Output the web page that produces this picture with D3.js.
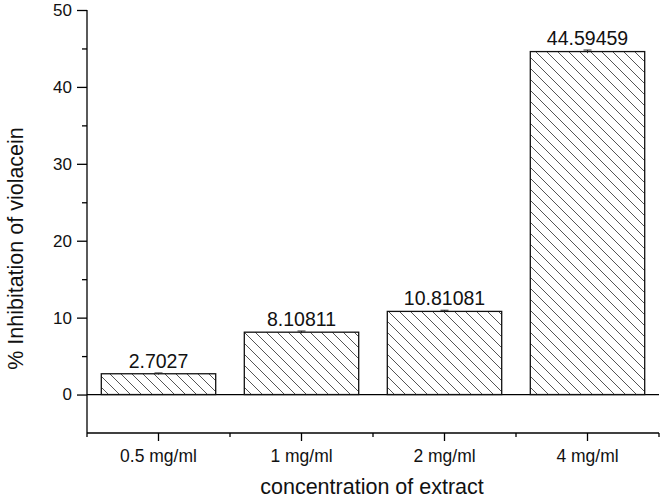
<!DOCTYPE html>
<html><head><meta charset="utf-8">
<script src="https://cdn.jsdelivr.net/npm/d3@7"></script>
<style>body{margin:0;background:#fff}svg{display:block}text{font-family:"Liberation Sans",Arial,sans-serif;fill:#111}</style>
</head><body><svg id="c" width="661" height="500"></svg>
<script>
const categories = ["0.5 mg/ml", "1 mg/ml", "2 mg/ml", "4 mg/ml"];
const values = [2.7027, 8.10811, 10.81081, 44.59459];
const valueLabels = ["2.7027", "8.10811", "10.81081", "44.59459"];
const errors = [0.1, 0.15, 0.15, 0.2];
const yMajorTicks = [0, 10, 20, 30, 40, 50];
const yMinorTicks = [5, 15, 25, 35, 45];
const xTitle = "concentration of extract";
const yTitle = "% Inhibitation of violacein";

const svg = d3.select("#c");
const mLeft = 87, mRight = 659, mTop = 10, mBottom = 433;
const x = d3.scaleBand().domain(categories).range([mLeft, mRight]).paddingInner(0.2).paddingOuter(0.1);
const y = d3.scaleLinear().domain([-5, 50]).range([mBottom, mTop]);

const defs = svg.append("defs");
const pat = defs.append("pattern").attr("id", "hatch").attr("patternUnits", "userSpaceOnUse")
  .attr("width", 11).attr("height", 11);
pat.append("path").attr("d", "M-1,-1 L12,12 M-12,-1 L1,12 M10,-1 L23,12")
  .attr("stroke", "#555").attr("stroke-width", 1);

// zero line
svg.append("line").attr("x1", mLeft).attr("x2", mRight).attr("y1", y(0)).attr("y2", y(0))
  .attr("stroke", "#000").attr("stroke-width", 1.3);

// bars
svg.selectAll("rect.bar").data(values).enter().append("rect")
  .attr("x", (d, i) => x(categories[i]))
  .attr("width", x.bandwidth())
  .attr("y", d => y(d))
  .attr("height", d => y(0) - y(d))
  .attr("fill", "url(#hatch)")
  .attr("stroke", "#111").attr("stroke-width", 1.3);

// error bars
const eb = svg.selectAll("g.err").data(values).enter().append("g")
  .attr("stroke", "#222").attr("stroke-width", 1);
eb.append("line").attr("x1", (d, i) => x(categories[i]) + x.bandwidth() / 2)
  .attr("x2", (d, i) => x(categories[i]) + x.bandwidth() / 2)
  .attr("y1", (d, i) => y(d + errors[i])).attr("y2", (d, i) => y(d - errors[i]));
eb.append("line").attr("x1", (d, i) => x(categories[i]) + x.bandwidth() / 2 - 4)
  .attr("x2", (d, i) => x(categories[i]) + x.bandwidth() / 2 + 4)
  .attr("y1", (d, i) => y(d + errors[i])).attr("y2", (d, i) => y(d + errors[i]));

// value labels
svg.selectAll("text.val").data(values).enter().append("text")
  .attr("x", (d, i) => x(categories[i]) + x.bandwidth() / 2)
  .attr("y", (d, i) => y(d + errors[i]) - 5)
  .attr("text-anchor", "middle").style("font-size", "19.5px")
  .text((d, i) => valueLabels[i]);

// y axis
const yAxis = svg.append("g").attr("transform", `translate(${mLeft},0)`)
  .call(d3.axisLeft(y).tickValues(yMajorTicks).tickSize(10).tickPadding(5).tickFormat(d3.format("d")));
yAxis.select(".domain").attr("d", `M0,${y(50)}V${mBottom}`).attr("stroke", "#000").attr("stroke-width", 1.3);
yAxis.selectAll(".tick line").attr("stroke", "#000").attr("stroke-width", 1.3);
yAxis.selectAll("text").style("font-size", "17px").attr("fill", "#111");
svg.append("g").attr("transform", `translate(${mLeft},0)`)
  .call(d3.axisLeft(y).tickValues(yMinorTicks).tickSize(5).tickFormat(""))
  .call(g => g.select(".domain").remove())
  .selectAll("line").attr("stroke", "#000").attr("stroke-width", 1.3);

// x axis
const xAxis = svg.append("g").attr("transform", `translate(0,${mBottom})`)
  .call(d3.axisBottom(x).tickSize(8).tickPadding(9));
xAxis.select(".domain").attr("d", `M${mLeft},0H${mRight}`).attr("stroke", "#000").attr("stroke-width", 1.3);
xAxis.selectAll(".tick line").attr("stroke", "#000").attr("stroke-width", 1.3);
xAxis.selectAll("text").style("font-size", "17.5px").attr("fill", "#111");
const bounds = categories.map(c => x(c) - x.step() * x.paddingInner() / 2).concat([mRight]);
svg.append("g").selectAll("line").data(bounds).enter().append("line")
  .attr("x1", d => d).attr("x2", d => d).attr("y1", mBottom).attr("y2", mBottom + 4)
  .attr("stroke", "#000").attr("stroke-width", 1.3);

// titles
svg.append("text").attr("x", (mLeft + mRight) / 2 - 1).attr("y", 494).attr("text-anchor", "middle")
  .style("font-size", "21.5px").text(xTitle);
svg.append("text").attr("transform", `translate(23,${(y(-5) + y(50)) / 2 + 27}) rotate(-90)`)
  .attr("text-anchor", "middle").style("font-size", "21.5px").text(yTitle);
</script></body></html>
